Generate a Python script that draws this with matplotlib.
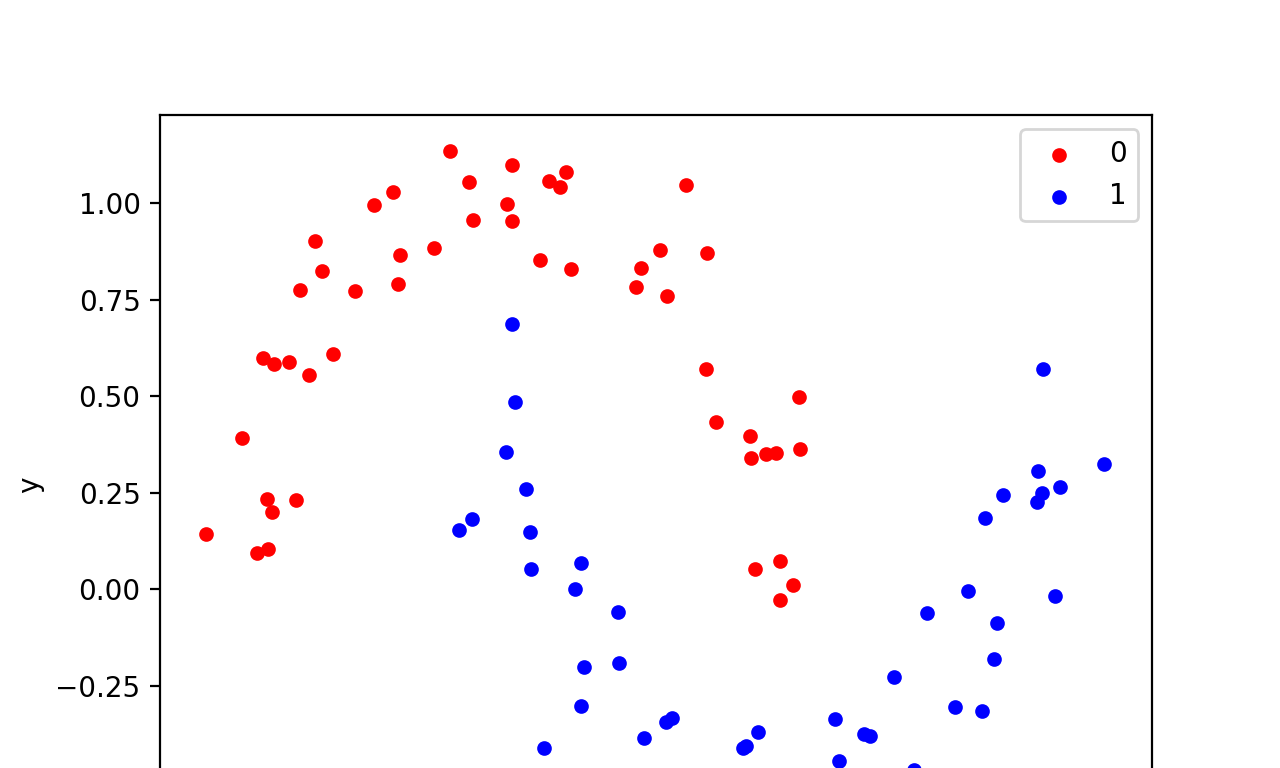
import numpy as np
import matplotlib.pyplot as plt

# class 0 (red) and class 1 (blue) points
x0 = [-0.916, -0.800, -0.752, -0.716, -0.719, -0.703, -0.626, -0.732, -0.697, -0.648,
      -0.584, -0.613, -0.565, -0.542, -0.506, -0.435, -0.374, -0.313, -0.297, -0.290,
      -0.181, -0.129, -0.068, -0.055, 0.055, 0.071, 0.071, 0.161, 0.190, 0.226,
      0.245, 0.261, 0.471, 0.487, 0.548, 0.571, 0.632, 0.700, 0.697, 0.729,
      0.839, 0.842, 0.890, 0.923, 0.997, 1.000, 0.855, 0.935, 0.977, 0.935]
y0 = [0.142, 0.391, 0.093, 0.104, 0.233, 0.199, 0.231, 0.598, 0.583, 0.588,
      0.554, 0.775, 0.902, 0.824, 0.609, 0.772, 0.995, 1.028, 0.790, 0.865,
      0.883, 1.135, 1.054, 0.956, 0.997, 1.098, 0.953, 0.852, 1.057, 1.041,
      1.080, 0.829, 0.782, 0.832, 0.878, 0.759, 1.047, 0.870, 0.570, 0.433,
      0.396, 0.339, 0.350, 0.352, 0.497, 0.363, 0.052, 0.073, 0.010, -0.028]

x1 = [0.071, 0.081, 0.052, -0.100, -0.058, 0.116, 0.129, 0.132, 0.274, 0.294,
      0.413, 0.303, 0.416, 0.294, 0.174, 0.497, 0.568, 0.587, 0.816, 0.826,
      0.865, 1.113, 1.126, 1.206, 1.226, 1.368, 1.303, 1.410, 1.500, 1.542,
      1.587, 1.597, 1.626, 1.635, 1.655, 1.765, 1.768, 1.781, 1.784, 1.823,
      1.839, 1.981]
y1 = [0.687, 0.484, 0.355, 0.153, 0.181, 0.259, 0.148, 0.052, 0.000, 0.067,
      -0.060, -0.202, -0.192, -0.303, -0.412, -0.386, -0.345, -0.334, -0.412, -0.407,
      -0.370, -0.337, -0.446, -0.376, -0.381, -0.469, -0.228, -0.062, -0.306, -0.005,
      -0.316, 0.184, -0.181, -0.088, 0.244, 0.225, 0.306, 0.249, 0.570, -0.018,
      0.264, 0.324]

yticks = [-0.25, 0.0, 0.25, 0.5, 0.75, 1.0]

fig = plt.figure(figsize=(6.4, 3.84), dpi=200)
# axes run off the bottom edge, as in the reference crop
ax = fig.add_axes([0.125, -0.1125, 0.775, 0.9625])
ax.scatter(x0, y0, color='red', s=20, linewidths=0.8, label='0')
ax.scatter(x1, y1, color='blue', s=20, linewidths=0.8, label='1')
ax.set_xlim(-1.065, 2.135)
ax.set_ylim(-0.6876, 1.228)
ax.set_yticks(yticks)
ax.tick_params(axis='x', labelbottom=False)
ax.set_ylabel('y')
ax.legend(loc='upper right')
fig.savefig('out.png', dpi=200)
